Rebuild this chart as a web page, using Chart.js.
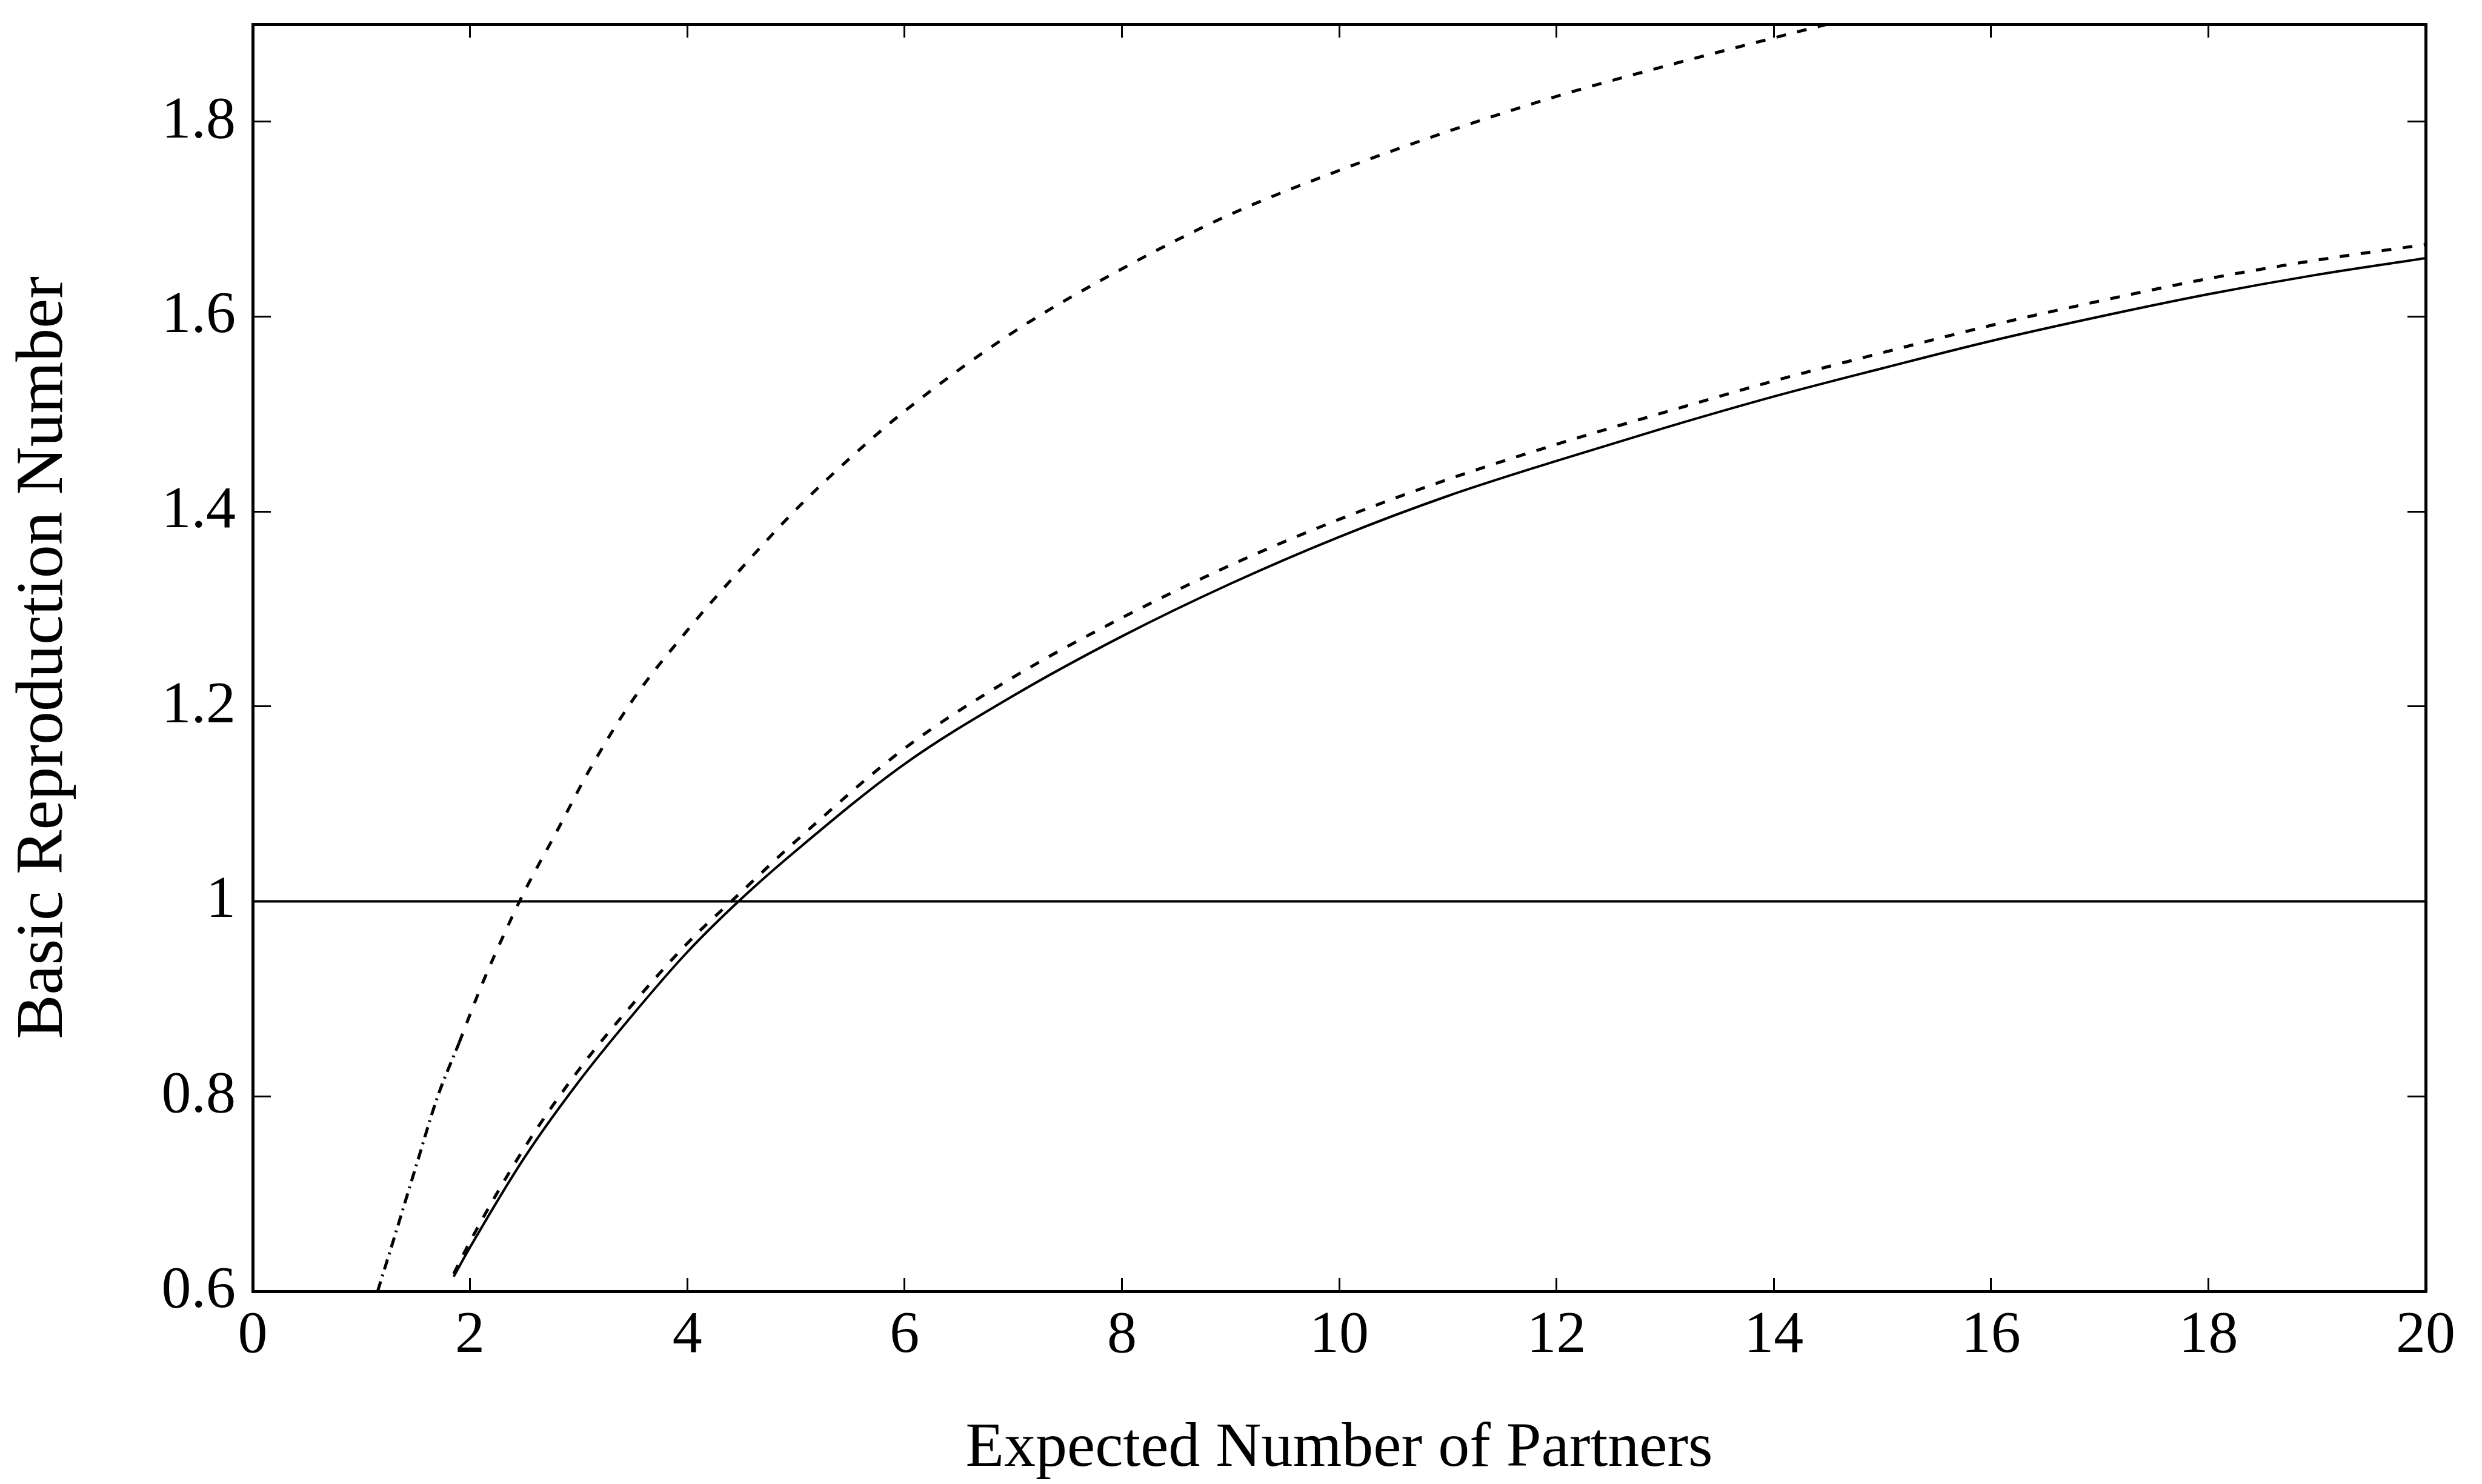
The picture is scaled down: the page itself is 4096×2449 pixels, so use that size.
<!DOCTYPE html>
<html>
<head>
  <meta charset="UTF-8" />
  <title>Basic Reproduction Number</title>
  <script src="https://cdn.jsdelivr.net/npm/chart.js"></script>
  <style>
    html, body {
      margin: 0;
      padding: 0;
      background: #fff;
    }
    canvas {
      display: block;
    }
  </style>
</head>
<body>
  <canvas id="chart" width="4096" height="2449"></canvas>

  <script>
    // osy
    const xTicks = [0, 2, 4, 6, 8, 10, 12, 14, 16, 18, 20];
    const yTicks = [0.6, 0.8, 1, 1.2, 1.4, 1.6, 1.8];
    const yTickLabels = ['0.6', '0.8', '1', '1.2', '1.4', '1.6', '1.8'];

    // prah R0 = 1
    const thresholdX = [0, 20];
    const thresholdY = [1, 1];

    // dvojice spodnich krivek (plna + carkovana)
    const pairX = [1.85, 2, 2.5, 3, 3.5, 4, 4.5, 5, 6, 7, 8, 9, 10, 11, 12, 13, 14, 15, 16, 17, 18, 19, 20];
    const solidY = [0.615, 0.645, 0.737, 0.815, 0.884, 0.948, 1.003, 1.052, 1.141, 1.211, 1.272, 1.326, 1.374, 1.416, 1.452, 1.486, 1.518, 1.547, 1.575, 1.600, 1.623, 1.643, 1.660];
    const nearDashY = [0.618, 0.651, 0.747, 0.827, 0.895, 0.957, 1.010, 1.062, 1.157, 1.230, 1.291, 1.345, 1.392, 1.433, 1.469, 1.502, 1.534, 1.563, 1.591, 1.616, 1.639, 1.658, 1.674];

    // horni krivka: cerchovany zacatek, pak carkovana
    const dashDotX = [1.15, 1.3, 1.5, 1.7, 1.9];
    const dashDotY = [0.60, 0.654, 0.727, 0.799, 0.855];
    const upperX = [1.9, 2.1, 2.3, 2.5, 2.8, 3.1, 3.5, 4, 4.5, 5, 5.5, 6, 7, 8, 9, 10, 11, 12, 13, 14, 14.6];
    const upperY = [0.855, 0.912, 0.963, 1.01, 1.072, 1.135, 1.207, 1.278, 1.342, 1.402, 1.455, 1.503, 1.584, 1.649, 1.705, 1.750, 1.790, 1.826, 1.857, 1.886, 1.903];

    const toPoints = (xs, ys) => xs.map((x, i) => ({ x: x, y: ys[i] }));

    function curve(xs, ys, width, dash) {
      return {
        data: toPoints(xs, ys),
        showLine: true,
        borderColor: '#000',
        borderWidth: width,
        borderDash: dash,
        borderCapStyle: 'butt',
        pointRadius: 0,
        fill: false,
        cubicInterpolationMode: 'monotone'
      };
    }

    Chart.defaults.font.family = "'Liberation Serif', 'Times New Roman', serif";
    Chart.defaults.color = '#000';

    const tickGrid = len => ({
      drawOnChartArea: false,
      tickLength: -len,
      lineWidth: 3,
      color: '#000'
    });
    const frame = { color: '#000', width: 5 };

    // pevne rozmery os, bez automatickeho odsazeni popisku
    function fixSize(w, h) {
      return s => {
        if (w !== null) s.width = w;
        if (h !== null) s.height = h;
        s.paddingTop = 0;
        s.paddingBottom = 0;
        s.paddingLeft = 0;
        s.paddingRight = 0;
      };
    }

    const ctx = document.getElementById('chart').getContext('2d');
    new Chart(ctx, {
      type: 'scatter',
      data: {
        datasets: [
          curve(thresholdX, thresholdY, 4, []),
          curve(pairX, solidY, 4, []),
          curve(pairX, nearDashY, 5, [16, 19]),
          curve(dashDotX, dashDotY, 5, [17, 9, 3, 9]),
          curve(upperX, upperY, 5, [16, 19])
        ]
      },
      options: {
        responsive: false,
        animation: false,
        devicePixelRatio: 1,
        layout: { padding: 0, autoPadding: false },
        plugins: {
          legend: { display: false },
          tooltip: { enabled: false }
        },
        scales: {
          x: {
            type: 'linear',
            position: 'bottom',
            min: 0,
            max: 20,
            afterBuildTicks: s => { s.ticks = xTicks.map(v => ({ value: v })); },
            afterFit: fixSize(null, 318),
            ticks: {
              font: { size: 98 },
              padding: 37,
              maxRotation: 0,
              autoSkip: false,
              callback: v => String(v)
            },
            grid: tickGrid(22),
            border: frame,
            title: {
              display: true,
              text: 'Expected Number of Partners',
              font: { size: 104, lineHeight: 1 },
              padding: { top: 0, bottom: 5 }
            }
          },
          x2: {
            type: 'linear',
            position: 'top',
            min: 0,
            max: 20,
            afterBuildTicks: s => { s.ticks = xTicks.map(v => ({ value: v })); },
            afterFit: fixSize(null, 40),
            ticks: { display: false },
            grid: tickGrid(22),
            border: frame
          },
          y: {
            type: 'linear',
            position: 'left',
            min: 0.6,
            max: 1.9,
            afterBuildTicks: s => { s.ticks = yTicks.map(v => ({ value: v })); },
            afterFit: fixSize(417, null),
            ticks: {
              font: { size: 98 },
              padding: 58,
              autoSkip: false,
              callback: (v, i) => yTickLabels[i]
            },
            grid: tickGrid(30),
            border: frame,
            title: {
              display: true,
              text: 'Basic Reproduction Number',
              font: { size: 110, lineHeight: 1 },
              padding: { top: 18, bottom: 0 }
            }
          },
          y2: {
            type: 'linear',
            position: 'right',
            min: 0.6,
            max: 1.9,
            afterBuildTicks: s => { s.ticks = yTicks.map(v => ({ value: v })); },
            afterFit: fixSize(93, null),
            ticks: { display: false },
            grid: tickGrid(30),
            border: frame
          }
        }
      }
    });
  </script>
</body>
</html>
